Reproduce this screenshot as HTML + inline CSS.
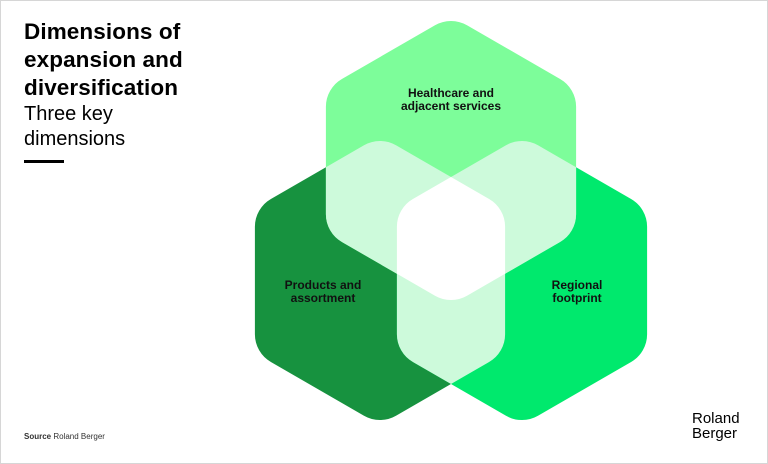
<!DOCTYPE html>
<html><head><meta charset="utf-8"><style>
html,body{margin:0;padding:0;background:#fff}
body{width:768px;height:464px;position:relative;overflow:hidden;font-family:"Liberation Sans",sans-serif}
.frame{position:absolute;left:0;top:0;width:766px;height:462px;border:1px solid #d6d6d6}
.t{position:absolute;left:24px;top:18px;font-size:22.5px;font-weight:bold;line-height:28px;color:#000;letter-spacing:0.1px}
.s{position:absolute;left:24px;top:102px;font-size:20px;line-height:25px;color:#000}
.bar{position:absolute;left:24px;top:160px;width:40px;height:3px;background:#000}
.src{position:absolute;left:24px;top:432px;font-size:8px;color:#333}
.logo{position:absolute;left:692px;top:411px;font-size:15px;line-height:15px;color:#000}
</style></head><body>
<div class="frame"></div>
<div class="t">Dimensions of<br>expansion and<br>diversification</div>
<div class="s">Three key<br>dimensions</div>
<div class="bar"></div>
<svg width="768" height="464" style="position:absolute;left:0;top:0">
<defs>
<path id="h" d="M16,-135.25 L109.1,-81.5 A32,32 0 0 1 125.1,-53.75 L125.1,53.75 A32,32 0 0 1 109.1,81.5 L16,135.25 A32,32 0 0 1 -16,135.25 L-109.1,81.5 A32,32 0 0 1 -125.1,53.75 L-125.1,-53.75 A32,32 0 0 1 -109.1,-81.5 L-16,-135.25 A32,32 0 0 1 16,-135.25 Z"/>
<clipPath id="cT"><use href="#h" transform="translate(451,160.5)"/></clipPath>
<clipPath id="cL"><use href="#h" transform="translate(380,280.5)"/></clipPath>
<clipPath id="cR"><use href="#h" transform="translate(522,280.5)"/></clipPath>
</defs>
<use href="#h" transform="translate(380,280.5)" fill="#17923f"/>
<use href="#h" transform="translate(522,280.5)" fill="#00e96d"/>
<use href="#h" transform="translate(451,160.5)" fill="#7dfd9a"/>
<g clip-path="url(#cT)"><use href="#h" transform="translate(380,280.5)" fill="#cdfadb"/><use href="#h" transform="translate(522,280.5)" fill="#cdfadb"/></g>
<g clip-path="url(#cL)"><use href="#h" transform="translate(522,280.5)" fill="#cdfadb"/></g>
<g clip-path="url(#cL)"><g clip-path="url(#cR)"><use href="#h" transform="translate(451,160.5)" fill="#fff"/></g></g>
<g font-family="Liberation Sans, sans-serif" font-weight="bold" font-size="12" fill="#111" text-anchor="middle">
<text x="451" y="97">Healthcare and</text>
<text x="451" y="110">adjacent services</text>
<text x="323" y="289">Products and</text>
<text x="323" y="302">assortment</text>
<text x="577" y="289">Regional</text>
<text x="577" y="302">footprint</text>
</g>
</svg>
<div class="src"><b>Source</b> Roland Berger</div>
<div class="logo">Roland<br>Berger</div>
</body></html>
